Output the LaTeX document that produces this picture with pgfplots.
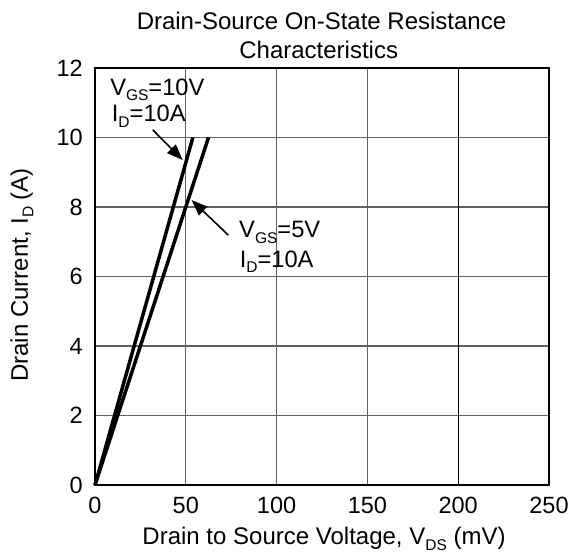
\documentclass[border=0pt]{standalone}
\usepackage{pgfplots}
\pgfplotsset{compat=1.18}
\usepackage{fontspec}
\setmainfont{Liberation Sans}
\usetikzlibrary{arrows.meta}
\newcommand{\sub}[1]{\raisebox{-0.22em}{\fontsize{15.5}{15.5}\selectfont #1}}
\pgfplotstableread{
x y
0 0
26.95 5
53.9 10
}\vgsten
\pgfplotstableread{
x y
0 0
31.25 5
62.5 10
}\vgsfive
\begin{document}
\begin{tikzpicture}
\fontsize{24}{28}\selectfont
\begin{axis}[
  scale only axis,
  width=454pt, height=417pt,
  xmin=0, xmax=250, ymin=0, ymax=12,
  xtick={0,50,100,150,250}, ytick={0,2,...,12},
  extra x ticks={200},
  extra x tick style={major grid style={black, line width=1.2pt}},
  major tick length=0pt,
  xmajorgrids, ymajorgrids,
  major grid style={black!62, line width=1.3pt},
  axis line style={line width=2.2pt},
  /pgf/number format/assume math mode=true,
  tick label style={font=\fontsize{23.5}{23.5}\selectfont, inner sep=0pt},
  xticklabel style={anchor=north, yshift=-12pt},
  yticklabel style={anchor=east, xshift=-12pt},
  clip=false,
]
\addplot[black, line width=3.5pt] table[x=x,y=y] {\vgsten};
\addplot[black, line width=3.5pt] table[x=x,y=y] {\vgsfive};
\draw[line width=1.6pt, -{Triangle[length=16pt,width=12pt]}] (axis cs:31.8,10.22) -- (axis cs:48.3,9.35);
\draw[line width=1.6pt, -{Triangle[length=16pt,width=12pt]}] (axis cs:73.4,7.19) -- (axis cs:53.2,8.20);
\node[anchor=base west, inner sep=0pt, font=\fontsize{23.7}{28}\selectfont] at (axis cs:8.3,11.22) {V\sub{GS}=10V};
\node[anchor=base west, inner sep=0pt, font=\fontsize{23.7}{28}\selectfont] at (axis cs:9.2,10.45) {I\sub{D}=10A};
\node[anchor=base west, inner sep=0pt, font=\fontsize{23.7}{28}\selectfont] at (axis cs:79.3,7.11) {V\sub{GS}=5V};
\node[anchor=base west, inner sep=0pt, font=\fontsize{23.7}{28}\selectfont] at (axis cs:79.6,6.27) {I\sub{D}=10A};
\end{axis}
\path (current axis.south west) ++(226.5pt,455.7pt) node[anchor=base, inner sep=0pt] {Drain-Source On-State Resistance};
\path (current axis.south west) ++(223.7pt,426.7pt) node[anchor=base, inner sep=0pt] {Characteristics};
\path (current axis.south west) ++(229pt,-60pt) node[anchor=base, inner sep=0pt] {Drain to Source Voltage, V\sub{DS} (mV)};
\path (current axis.south west) ++(-67pt,210pt) node[anchor=base, rotate=90, inner sep=0pt] {Drain Current, I\sub{D} (A)};
\path (current axis.south west) ++(-95pt,-68pt) rectangle ++(573pt,553pt);
\end{tikzpicture}
\end{document}
